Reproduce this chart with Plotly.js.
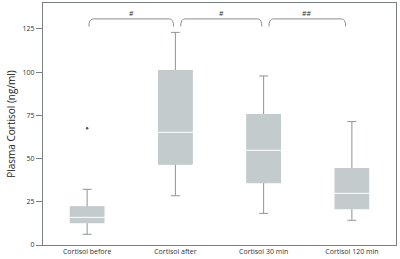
<!DOCTYPE html>
<html>
<head>
<meta charset="utf-8">
<script src="https://cdn.plot.ly/plotly-3.0.1.min.js"></script>
<style>html,body{margin:0;padding:0;background:#fff;}#chart{width:400px;height:259px;}</style>
</head>
<body>
<div id="chart"></div>
<script>
const categories = ['Cortisol before', 'Cortisol after', 'Cortisol 30 min', 'Cortisol 120 min'];
const lowerWhisker = [6.2, 28.5, 18.3, 14.3];
const q1 = [13.1, 47.0, 36.3, 21.2];
const median = [16.0, 65.2, 54.8, 29.9];
const q3 = [21.8, 100.7, 75.2, 44.0];
const upperWhisker = [32.2, 123.0, 97.8, 71.4];
const outlierCategory = ['Cortisol before'];
const outlierValue = [67.5];
const yTickVals = [0, 25, 50, 75, 100, 125];
// significance brackets: [from category index, to category index, label]
const brackets = [[0, 1, '#'], [1, 2, '#'], [2, 3, '##']];

const boxColor = '#c3cbcd';
const whiskerColor = '#8d9496';
const boxGap = 0.47;

const common = {
  type: 'box', x: categories, q1: q1, median: median, q3: q3,
  fillcolor: boxColor, boxpoints: false, hoverinfo: 'skip', showlegend: false
};
const traces = [
  Object.assign({}, common, {
    lowerfence: lowerWhisker, upperfence: upperWhisker,
    line: {color: whiskerColor, width: 1}, whiskerwidth: 0.27
  }),
  Object.assign({}, common, {
    lowerfence: q1, upperfence: q3,
    line: {color: boxColor, width: 2}, whiskerwidth: 0
  }),
  {
    type: 'scatter', mode: 'markers', x: outlierCategory, y: outlierValue,
    marker: {color: '#555', size: 2.5}, showlegend: false, hoverinfo: 'skip'
  }
];

const shapes = [];
const annotations = [];
// white median lines across each box
median.forEach(function (m, i) {
  const half = (1 - boxGap) / 2 + 0.01;
  shapes.push({
    type: 'line', xref: 'x', yref: 'y', x0: i - half, x1: i + half, y0: m, y1: m,
    line: {color: '#ffffff', width: 1}
  });
});

const yTop = 130.8, yEnd = 126.4, dx = 0.05;
brackets.forEach(function (b, i) {
  const x0 = b[0] + (i === 0 ? 0.02 : 0.06);
  const x1 = b[1] - (i === 2 ? 0.07 : 0.02);
  shapes.push({
    type: 'path', xref: 'x', yref: 'y',
    path: 'M' + x0 + ',' + yEnd + ' Q' + x0 + ',' + yTop + ' ' + (x0 + dx) + ',' + yTop +
          ' L' + (x1 - dx) + ',' + yTop + ' Q' + x1 + ',' + yTop + ' ' + x1 + ',' + yEnd,
    line: {color: '#7d8384', width: 0.9}
  });
  annotations.push({
    x: (x0 + x1) / 2, y: yTop, xref: 'x', yref: 'y', text: b[2], showarrow: false,
    yanchor: 'bottom', yshift: -1, font: {family: 'Open Sans, sans-serif', size: 7, color: '#333'}
  });
});

const layout = {
  width: 400, height: 259,
  margin: {l: 43, r: 4, t: 3, b: 14},
  paper_bgcolor: '#fff', plot_bgcolor: '#fff',
  boxgap: boxGap, boxmode: 'overlay',
  font: {family: 'Open Sans, sans-serif', color: '#333'},
  xaxis: {
    type: 'category', categoryarray: categories, range: [-0.5, 3.5],
    showline: true, mirror: true, linecolor: '#7a7f80', linewidth: 1,
    ticks: '', showgrid: false, zeroline: false,
    tickfont: {size: 7, color: '#333'}
  },
  yaxis: {
    range: [0, 140], tickvals: yTickVals, ticktext: yTickVals.map(String),
    showline: true, mirror: true, linecolor: '#7a7f80', linewidth: 1,
    ticks: 'outside', ticklen: 6, tickcolor: '#7a7f80', tickwidth: 1,
    showgrid: false, zeroline: false,
    tickfont: {size: 7, color: '#333'},
    title: {text: 'Plasma Cortisol (ng/ml)', font: {size: 10, color: '#222'}, standoff: 5}
  },
  shapes: shapes,
  annotations: annotations
};

Plotly.newPlot('chart', traces, layout, {staticPlot: true, displayModeBar: false});
</script>
</body>
</html>
